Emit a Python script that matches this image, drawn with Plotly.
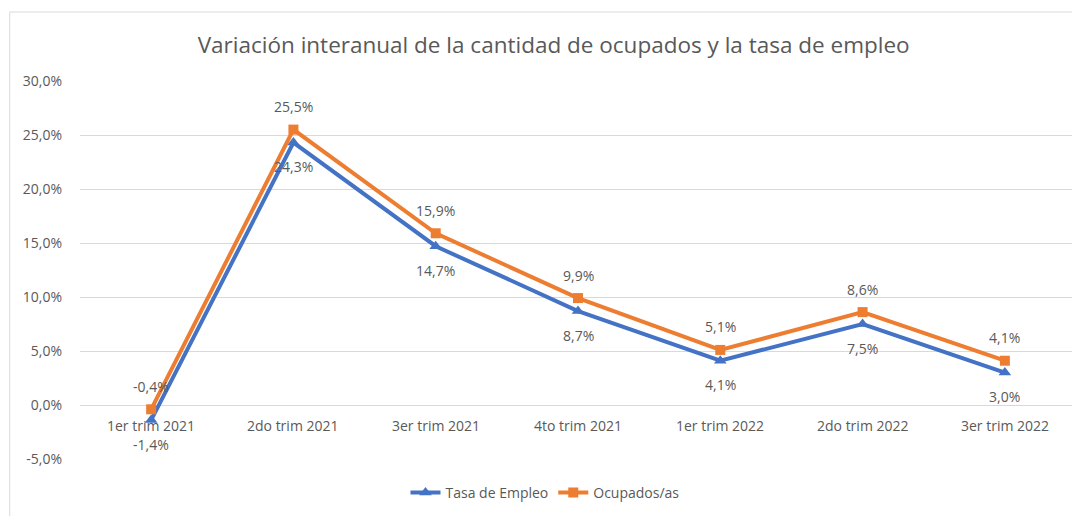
import plotly.graph_objects as go

categories = ["1er trim 2021", "2do trim 2021", "3er trim 2021", "4to trim 2021",
              "1er trim 2022", "2do trim 2022", "3er trim 2022"]
tasa_empleo = [-1.4, 24.3, 14.7, 8.7, 4.1, 7.5, 3.0]
ocupados = [-0.4, 25.5, 15.9, 9.9, 5.1, 8.6, 4.1]
y_ticks = [-5, 0, 5, 10, 15, 20, 25, 30]
title = "Variación interanual de la cantidad de ocupados y la tasa de empleo"

BLUE = "#4472C4"
ORANGE = "#ED7D31"
GREY = "#595959"
FONT = "Open Sans"

def fmt(v):
    return f"{v:.1f}%".replace(".", ",")

fig = go.Figure()
fig.add_trace(go.Scatter(
    x=categories, y=tasa_empleo, name="Tasa de Empleo", mode="lines+markers",
    line=dict(color=BLUE, width=4), marker=dict(symbol="triangle-up", size=11, color=BLUE),
    cliponaxis=False,
))
fig.add_trace(go.Scatter(
    x=categories, y=ocupados, name="Ocupados/as", mode="lines+markers",
    line=dict(color=ORANGE, width=4), marker=dict(symbol="square", size=10, color=ORANGE),
    cliponaxis=False,
))

label_font = dict(family=FONT, size=14, color=GREY)
for c, v in zip(categories, tasa_empleo):
    fig.add_annotation(x=c, y=v, xref="x", yref="y", text=fmt(v), showarrow=False,
                       yanchor="middle", yshift=-24, font=label_font)
for c, v in zip(categories, ocupados):
    fig.add_annotation(x=c, y=v, xref="x", yref="y", text=fmt(v), showarrow=False,
                       yanchor="middle", yshift=23, font=label_font)

for c in categories:
    fig.add_annotation(x=c, y=0, xref="x", yref="y", text=c, showarrow=False,
                       yanchor="top", yshift=-9, font=label_font)

fig.add_shape(type="rect", xref="paper", yref="paper",
              x0=-0.0703, x1=1.03, y0=-0.25, y1=1.1825,
              line=dict(color="#D9D9D9", width=1), fillcolor="rgba(0,0,0,0)", layer="below")

fig.update_layout(
    width=1072, height=508,
    margin=dict(l=72, r=0, t=73, b=57),
    paper_bgcolor="white", plot_bgcolor="white",
    title=dict(text=title, x=0.509, xanchor="center", y=1 - 37 / 508, yanchor="middle",
               font=dict(family=FONT, size=22.5, color=GREY)),
    showlegend=True,
    legend=dict(orientation="h", x=0.465, xanchor="center", y=-0.09, yanchor="middle",
                font=dict(family=FONT, size=14, color=GREY)),
    xaxis=dict(showticklabels=False, showgrid=False, zeroline=False, showline=False,
               range=[-0.5, 6.5], domain=[0, 0.996]),
    yaxis=dict(range=[-5, 30], tickvals=y_ticks, ticktext=[fmt(v) for v in y_ticks],
               showgrid=True, gridcolor="#D9D9D9", gridwidth=1,
               zeroline=True, zerolinecolor="#D9D9D9", zerolinewidth=1,
               showline=False, ticks="", ticklabelstandoff=17,
               tickfont=dict(family=FONT, size=14, color=GREY)),
)

fig.write_html("out.html")
